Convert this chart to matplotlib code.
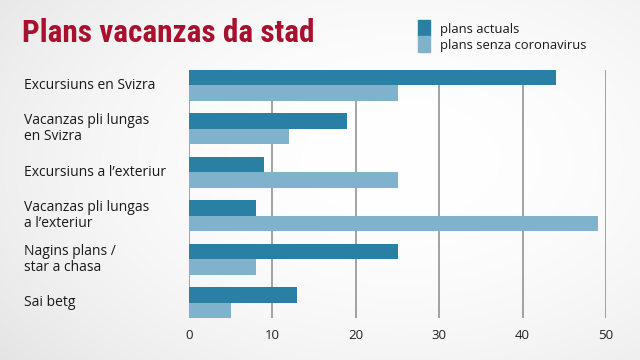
import numpy as np
import matplotlib
matplotlib.use("Agg")
import matplotlib.pyplot as plt
from matplotlib import font_manager

# data
categories = ["Excursiuns en Svizra", "Vacanzas pli lungas\nen Svizra",
              "Excursiuns a l\u2019exteriur", "Vacanzas pli lungas\na l\u2019exteriur",
              "Nagins plans /\nstar a chasa", "Sai betg"]
plans_actuals = [44, 19, 9, 8, 25, 13]
plans_senza = [25, 12, 25, 49, 8, 5]
xticks = [0, 10, 20, 30, 40, 50]

dark = "#2a7fa5"
light = "#80b3cb"
title_red = "#a8102e"
gridc = "#8a8a8a"

plt.rcParams["font.family"] = ["Open Sans", "DejaVu Sans"]

names = {f.name for f in font_manager.fontManager.ttflist}
narrow = [n for n in ["Liberation Sans Narrow", "Roboto Condensed", "DejaVu Sans"] if n in names]

fig = plt.figure(figsize=(6.4, 3.6), dpi=100)

# soft radial background
bg = fig.add_axes([0, 0, 1, 1], zorder=-10)
yy, xx = np.mgrid[0:360, 0:640]
r = np.sqrt(((xx - 400) / 420.0) ** 2 + ((yy - 160) / 260.0) ** 2)
shade = 1.0 - 0.07 * np.clip(r, 0, 1.4) ** 2
bg.imshow(np.dstack([shade, shade, shade]), aspect="auto", extent=[0, 1, 0, 1])
bg.axis("off")

ax = fig.add_axes([189 / 640, 1 - 318 / 360, (606 - 189) / 640, (318 - 70) / 360])
ax.patch.set_alpha(0)

h = 0.356
y = np.arange(len(categories))
ax.barh(y - h / 2, plans_actuals, height=h, color=dark, zorder=3)
ax.barh(y + h / 2, plans_senza, height=h, color=light, zorder=3)

ax.set_xlim(0, 50)
ax.set_ylim(len(categories) - 1 + h, -h)
ax.set_xticks(xticks)
ax.set_xticklabels([str(t) for t in xticks], fontsize=9.5, color="#222222")
ax.tick_params(axis="x", length=0, pad=8)
ax.set_yticks([])
for t in xticks:
    ax.axvline(t, color=gridc, lw=1.1, zorder=1)
for s in ax.spines.values():
    s.set_visible(False)

for yi, lab in zip(y, categories):
    ax.annotate(lab, xy=(24, 0), xycoords=("figure pixels", "data"),
                xytext=(24, yi), textcoords=("figure pixels", "data"),
                ha="left", va="center", fontsize=10, color="#1a1a1a",
                linespacing=1.1, annotation_clip=False)

fig.text(22 / 640, 1 - 33 / 360, "Plans vacanzas da stad", fontsize=22.5,
         fontweight="bold", fontstretch="condensed", color=title_red,
         ha="left", va="center", family=narrow)

# legend
fig.patches.append(plt.Rectangle((418 / 640, 1 - 36 / 360), 12 / 640, 16 / 360,
                                 transform=fig.transFigure, color=dark))
fig.patches.append(plt.Rectangle((418 / 640, 1 - 52 / 360), 12 / 640, 16 / 360,
                                 transform=fig.transFigure, color=light))
fig.text(440 / 640, 1 - 29 / 360, "plans actuals", fontsize=9.4, color="#1a1a1a",
         va="center", ha="left")
fig.text(440 / 640, 1 - 45 / 360, "plans senza coronavirus", fontsize=9.4,
         color="#1a1a1a", va="center", ha="left")

fig.savefig("out.png", dpi=100)
